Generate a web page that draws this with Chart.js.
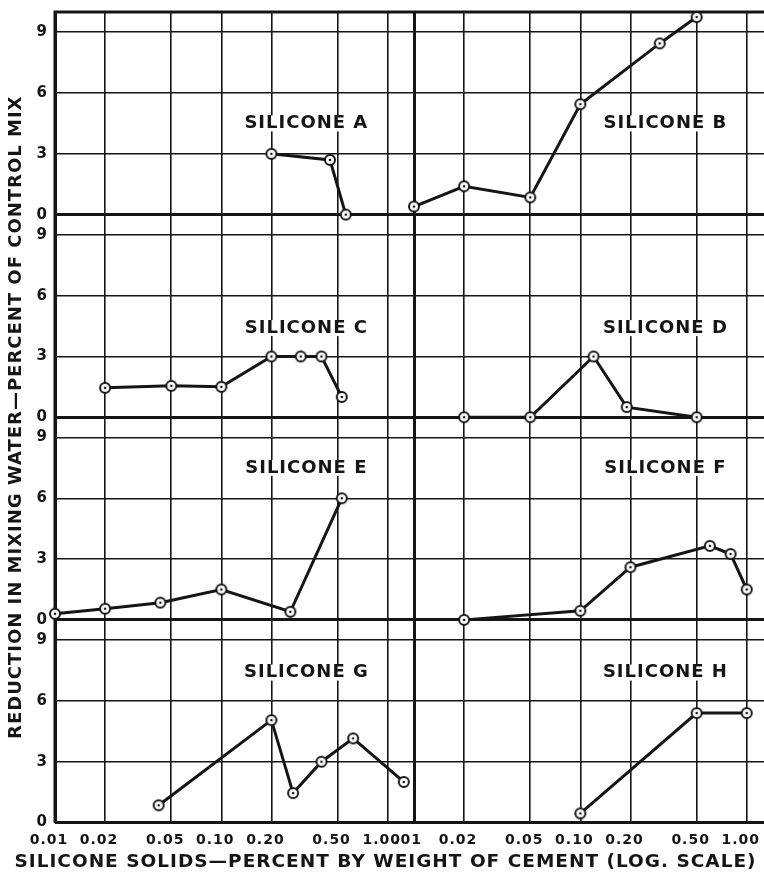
<!DOCTYPE html>
<html>
<head>
<meta charset="utf-8">
<script src="https://cdn.jsdelivr.net/npm/chart.js@4.4.0/dist/chart.umd.min.js"></script>
<style>
  html, body { margin: 0; padding: 0; background: #fff; }
</style>
</head>
<body>
<canvas id="silicone" width="764" height="873"></canvas>
<script>
// silicone solids (% by weight of cement) vs reduction in mixing water (%)
var names = ["A", "B", "C", "D", "E", "F", "G", "H"];

var xA = [0.2, 0.45, 0.56];
var yA = [3.0, 2.7, 0];
var xB = [0.01, 0.02, 0.05, 0.1, 0.3, 0.5];
var yB = [0.4, 1.4, 0.85, 5.45, 8.45, 9.75];
var xC = [0.02, 0.05, 0.1, 0.2, 0.3, 0.4, 0.53];
var yC = [1.45, 1.55, 1.5, 3.0, 3.0, 3.0, 1.0];
var xD = [0.02, 0.05, 0.12, 0.19, 0.5];
var yD = [0, 0, 3.0, 0.5, 0];
var xE = [0.01, 0.02, 0.043, 0.1, 0.26, 0.53];
var yE = [0.3, 0.55, 0.85, 1.5, 0.4, 6.0];
var xF = [0.02, 0.1, 0.2, 0.6, 0.8, 1.0];
var yF = [0, 0.45, 2.6, 3.65, 3.25, 1.5];
var xG = [0.042, 0.2, 0.27, 0.4, 0.62, 1.25];
var yG = [0.85, 5.05, 1.45, 3.0, 4.15, 2.0];
var xH = [0.1, 0.5, 1.0];
var yH = [0.45, 5.4, 5.4];

var xTicks = [0.01, 0.02, 0.05, 0.1, 0.2, 0.5, 1];
var xLabelsLeft = ["0.01", "0.02", "0.05", "0.10", "0.20", "0.50", "1.00"];
var xLabelsRight = [".01", "0.02", "0.05", "0.10", "0.20", "0.50", "1.00"];
var yTicks = [0, 3, 6, 9];

// where the "SILICONE x" tags sit, in data units of each panel
var tagX = 0.32;
var tagY = [4.5, 4.5, 4.4, 4.4, 7.5, 7.5, 7.4, 7.4];

var ink = "#151515";
var family = "'DejaVu Sans', sans-serif";

function marker() {
    var c = document.createElement("canvas");
    c.width = 14;
    c.height = 14;
    var g = c.getContext("2d");
    g.beginPath();
    g.arc(7, 7, 5, 0, Math.PI * 2);
    g.fillStyle = "#fff";
    g.fill();
    g.lineWidth = 2;
    g.strokeStyle = ink;
    g.stroke();
    g.beginPath();
    g.arc(7, 7, 1.3, 0, Math.PI * 2);
    g.fillStyle = ink;
    g.fill();
    return c;
}
var dot = marker();

var series = [[xA, yA], [xB, yB], [xC, yC], [xD, yD], [xE, yE], [xF, yF], [xG, yG], [xH, yH]];

var datasets = series.map(function (s, i) {
    return {
        label: "SILICONE " + names[i],
        data: s[0].map(function (x, j) { return { x: x, y: s[1][j] }; }),
        xAxisID: i % 2 ? "xR" : "xL",
        yAxisID: "y" + (Math.floor(i / 2) + 1),
        borderColor: ink,
        borderWidth: 3,
        tension: 0,
        pointStyle: dot,
        pointRadius: 6,
        clip: false,
    };
});

// left panel is 359px wide, right one is cut by the page edge at 350px
function xScale(labels, weight, width, max) {
    return {
        type: "logarithmic",
        position: "bottom",
        stack: "x",
        stackWeight: width,
        weight: weight,
        min: 0.01,
        max: max,
        bounds: "data",
        afterBuildTicks: function (s) {
            s.ticks = xTicks.map(function (v) { return { value: v }; });
        },
        afterFit: function (s) {
            s.height = 28;
            s.paddingLeft = 0;
            s.paddingRight = 0;
        },
        ticks: {
            autoSkip: false,
            maxRotation: 0,
            padding: 9,
            labelOffset: -6,
            color: ink,
            font: { family: family, size: 14, weight: "bold" },
            callback: function (v, i) { return labels[i]; },
        },
        grid: {
            drawTicks: false,
            color: ink,
            lineWidth: function (c) { return c.tick && c.tick.value === 0.01 ? 3 : 1.6; },
        },
        border: { display: false },
    };
}

function yScale(weight) {
    return {
        type: "linear",
        position: "left",
        stack: "y",
        stackWeight: 1,
        weight: weight,
        min: 0,
        max: 10,
        afterBuildTicks: function (s) {
            s.ticks = yTicks.map(function (v) { return { value: v }; });
        },
        afterFit: function (s) {
            s.width = 30;
            s.paddingTop = 0;
            s.paddingBottom = 0;
        },
        ticks: {
            padding: 7,
            color: ink,
            font: { family: family, size: 15, weight: "bold" },
        },
        grid: {
            drawTicks: false,
            color: ink,
            lineWidth: function (c) { return c.tick && c.tick.value === 0 ? 3 : 1.6; },
        },
        border: { display: false },
    };
}

var spacing = {
    id: "spacing",
    beforeLayout: function (chart) { chart.ctx.letterSpacing = "1px"; },
    beforeDraw: function (chart) { chart.ctx.letterSpacing = "1px"; },
};

// top and left edges of the grid (right edge is off the page)
var frame = {
    id: "frame",
    beforeDatasetsDraw: function (chart) {
        var a = chart.chartArea, ctx = chart.ctx;
        ctx.save();
        ctx.strokeStyle = ink;
        ctx.lineWidth = 3;
        ctx.beginPath();
        ctx.moveTo(a.right + 2, a.top);
        ctx.lineTo(a.left, a.top);
        ctx.lineTo(a.left, a.bottom);
        ctx.stroke();
        ctx.restore();
    },
};

var panelTags = {
    id: "panelTags",
    beforeDatasetsDraw: function (chart) {
        var ctx = chart.ctx;
        ctx.save();
        ctx.font = "bold 18px " + family;
        ctx.letterSpacing = "1px";
        ctx.textAlign = "center";
        ctx.textBaseline = "middle";
        chart.data.datasets.forEach(function (ds, i) {
            var px = chart.scales[ds.xAxisID].getPixelForValue(tagX);
            var py = chart.scales[ds.yAxisID].getPixelForValue(tagY[i]);
            var w = ctx.measureText(ds.label).width;
            ctx.fillStyle = "#fff";
            ctx.fillRect(px - w / 2 - 2, py - 8, w + 4, 16);
            ctx.fillStyle = ink;
            ctx.fillText(ds.label, px + 1, py);
        });
        ctx.restore();
    },
};

var chart = new Chart(document.getElementById("silicone").getContext("2d"), {
    type: "line",
    data: { datasets: datasets },
    options: {
        responsive: false,
        animation: false,
        layout: { autoPadding: false, padding: { left: 7, right: 0, top: 12, bottom: 2 } },
        plugins: {
            legend: { display: false },
            tooltip: { enabled: false },
            title: {
                display: true,
                position: "left",
                fullSize: false,
                text: "REDUCTION IN MIXING WATER\u2014PERCENT OF CONTROL MIX",
                color: ink,
                padding: 0,
                font: { family: family, size: 18, weight: "bold", lineHeight: 1 },
            },
            subtitle: {
                display: true,
                position: "bottom",
                text: "SILICONE SOLIDS\u2014PERCENT BY WEIGHT OF CEMENT (LOG. SCALE)",
                color: ink,
                padding: { top: 2, bottom: 0 },
                font: { family: family, size: 18.5, weight: "bold", lineHeight: 1 },
            },
        },
        scales: {
            xL: xScale(xLabelsLeft, 0, 359, 1.44),
            xR: xScale(xLabelsRight, 1, 350, 1.27),
            y1: yScale(4),
            y2: yScale(3),
            y3: yScale(2),
            y4: yScale(1),
        },
    },
    plugins: [spacing, frame, panelTags],
});
</script>
</body>
</html>
